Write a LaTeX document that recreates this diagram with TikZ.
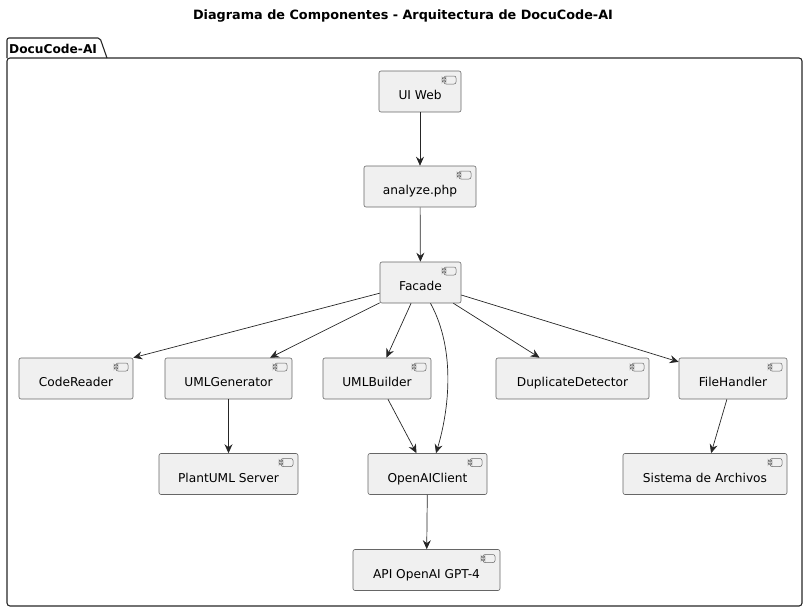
\documentclass[tikz,border=0pt]{standalone}
\usepackage{fontspec}
\setmainfont{DejaVu Sans}
\usetikzlibrary{arrows.meta}

\tikzset{
  comp/.style={draw=black!60, fill=black!6, line width=0.6pt, rounded corners=2pt,
    minimum height=41pt, inner xsep=15pt, text height=16pt, text depth=0pt,
    font=\fontsize{12.2}{14}\selectfont,
    path picture={
      \draw[black!60, line width=0.5pt, fill=black!6]
        ([xshift=-17pt,yshift=-5pt]path picture bounding box.north east) rectangle ++(12pt,-8pt);
      \draw[black!60, line width=0.4pt, fill=black!6]
        ([xshift=-19pt,yshift=-6.5pt]path picture bounding box.north east) rectangle ++(4pt,-1.6pt);
      \draw[black!60, line width=0.4pt, fill=black!6]
        ([xshift=-19pt,yshift=-9.5pt]path picture bounding box.north east) rectangle ++(4pt,-1.6pt);
    }},
  dep/.style={-{Stealth[length=9pt,width=8pt,inset=3pt]}, draw=black!85, line width=0.7pt}
}

\begin{document}
\begin{tikzpicture}[x=1pt,y=-1pt]
\useasboundingbox (0,0) rectangle (807,611);

% titulo
\node[font=\fontsize{12.8}{15}\selectfont\bfseries] (title) at (403,16.5) {Diagrama de Componentes - Arquitectura de DocuCode-AI};

% paquete
\draw[line width=1.1pt, black!85, rounded corners=2pt] (7,58) -- (7,38) -- (100,38) -- (107,58);
\draw[line width=1.1pt, black!85, rounded corners=3pt] (7,58) -- (802,58) -- (802,606) -- (7,606) -- cycle;
\node[font=\fontsize{12.2}{14}\selectfont\bfseries, anchor=west, inner xsep=2pt] (pkg) at (7,48.5) {DocuCode-AI};

% componentes
\node[comp, minimum width=82pt] (ui) at (420,91.5) {UI Web};
\node[comp, minimum width=112pt] (analyze) at (420,186.5) {analyze.php};
\node[comp, minimum width=81pt] (facade) at (420.5,282.5) {Facade};
\node[comp, minimum width=114pt] (reader) at (76,378.5) {CodeReader};
\node[comp, minimum width=127pt] (umlgen) at (228.5,378.5) {UMLGenerator};
\node[comp, minimum width=108pt] (umlbuild) at (377,378.5) {UMLBuilder};
\node[comp, minimum width=153pt] (dup) at (572.5,378.5) {DuplicateDetector};
\node[comp, minimum width=108pt] (files) at (733,378.5) {FileHandler};
\node[comp, minimum width=139pt] (plantuml) at (228.5,474) {PlantUML Server};
\node[comp, minimum width=119pt] (oai) at (427.5,474) {OpenAIClient};
\node[comp, minimum width=164pt] (fs) at (705,474) {Sistema de Archivos};
\node[comp, minimum width=147pt] (gpt) at (426.5,570) {API OpenAI GPT-4};

% dependencias
\draw[dep] (ui) -- (analyze);
\draw[dep] (analyze) -- (facade);
\draw[dep] (facade) -- (reader.north east);
\draw[dep] (facade) -- (umlgen);
\draw[dep] (facade) -- (umlbuild);
\draw[dep] ([xshift=10pt]facade.south) .. controls (456,350) and (449,410) .. ([xshift=8.5pt]oai.north);
\draw[dep] (facade) -- (dup);
\draw[dep] (facade) -- (files);
\draw[dep] (umlgen) -- (plantuml);
\draw[dep] (umlbuild) -- (oai);
\draw[dep] (files) -- (fs);
\draw[dep] (oai) -- (gpt);

\end{tikzpicture}
\end{document}
